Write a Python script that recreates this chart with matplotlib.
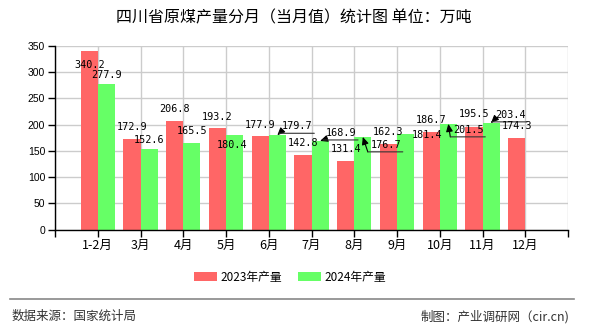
import matplotlib
matplotlib.use("Agg")
import matplotlib.pyplot as plt
import matplotlib.transforms as mtransforms
import numpy as np
from matplotlib.lines import Line2D

# Chart data (万吨).
months = ["1-2月", "3月", "4月", "5月", "6月", "7月", "8月", "9月", "10月", "11月", "12月"]
output_2023 = [340.2, 172.9, 206.8, 193.2, 177.9, 142.8, 131.4, 162.3, 186.7, 195.5, 174.3]
output_2024 = [277.9, 152.6, 165.5, 180.4, 179.7, 168.9, 176.7, 181.4, 201.5, 203.4, np.nan]
series_names = ["2023年产量", "2024年产量"]

# Label placement (pixels from bar top, +dy = down) and whether a leader line is drawn.
offsets_2023 = [(0, 14), (0, -12), (0, -12), (0, -11), (0, -11), (0, -12),
                (0, -12), (0, -12), (0, -12), (0, -13), (0, -12)]
offsets_2024 = [(0, -9), (0, -9), (0, -12), (-2, 10), (20, -9), (21, -8),
                (23, 8), (22, 1), (20, 6), (19, -8), (0, 0)]
leaders_2024 = [False, False, False, False, True, True, True, False, True, True, False]

plt.rcParams["font.family"] = ["Noto Sans CJK SC", "DejaVu Sans"]

fig = plt.figure(figsize=(5.9, 3.3), dpi=100)
ax = fig.add_axes([55 / 590, 1 - 229.5 / 330, 513 / 590, 183.5 / 330])

x = np.arange(1, len(months) + 1)
width = 0.4
ax.bar(x - width / 2, output_2023, width, color="#FF6666", label=series_names[0], zorder=2)
ax.bar(x + width / 2, output_2024, width, color="#66FF66", label=series_names[1], zorder=2)

ax.set_xlim(0, 12)
ax.set_ylim(0, 350)
ax.set_xticks(np.arange(0, 13))
ax.set_xticklabels([""] + months + [""], fontsize=9)
ax.set_yticks(np.arange(0, 351, 50))
for lab in ax.get_yticklabels():
    lab.set_family("Liberation Sans")
    lab.set_fontsize(7.5)
ax.tick_params(axis="both", length=5, width=1, color="black", pad=2)
ax.grid(True, color="#cccccc", linewidth=1, zorder=0)
ax.set_axisbelow(True)
for side in ["top", "right"]:
    ax.spines[side].set_visible(False)
for side in ["left", "bottom"]:
    ax.spines[side].set_color("black")
    ax.spines[side].set_linewidth(1)

label_font = dict(family="DejaVu Sans Mono", fontsize=7.3, ha="center", va="center", zorder=5)


def put_label(xpos, value, dx, dy, leader):
    if np.isnan(value):
        return
    ax.annotate(f"{value:.1f}", xy=(xpos, value), xytext=(dx, -dy),
                textcoords="offset pixels", **label_font)
    if leader:
        line_y = dy + 7
        ax.annotate("", xy=(xpos, value), xytext=(dx - 18, -line_y),
                    textcoords="offset pixels",
                    arrowprops=dict(arrowstyle="-|>,head_length=0.45,head_width=0.2",
                                    color="black", lw=0.8, shrinkA=0, shrinkB=0),
                    zorder=5)
        start = mtransforms.offset_copy(ax.transData, fig=fig, x=dx - 18, y=-line_y, units="dots")
        ax.plot([xpos, xpos], [value, value], alpha=0)
        ax.annotate("", xy=(xpos, value), xycoords=start, xytext=(35, 0),
                    textcoords="offset pixels",
                    arrowprops=dict(arrowstyle="-", color="#333333", lw=0.8,
                                    shrinkA=0, shrinkB=0), zorder=5)


for i in range(len(months)):
    put_label(x[i] - width / 2, output_2023[i], *offsets_2023[i], False)
    put_label(x[i] + width / 2, output_2024[i], *offsets_2024[i], leaders_2024[i])

fig.text(294 / 590, 1 - 18 / 330, "四川省原煤产量分月（当月值）统计图 单位：万吨",
         ha="center", va="center", fontsize=11.5)

fig.legend(loc="center", bbox_to_anchor=(290 / 590, 1 - 277 / 330), ncol=2,
           frameon=False, fontsize=8.5, handlelength=2.0, handleheight=0.8,
           handletextpad=0.3, columnspacing=1.3)

fig.add_artist(Line2D([10 / 590, 574 / 590], [1 - 299 / 330, 1 - 299 / 330],
                      transform=fig.transFigure, color="#888888", linewidth=1.2))
fig.text(12 / 590, 1 - 316.5 / 330, "数据来源：国家统计局", ha="left", va="center",
         fontsize=9, color="#333333")
fig.text(569 / 590, 1 - 316.5 / 330, "制图：产业调研网（cir.cn)", ha="right", va="center",
         fontsize=9, color="#333333")

fig.savefig("out.png", dpi=100)
